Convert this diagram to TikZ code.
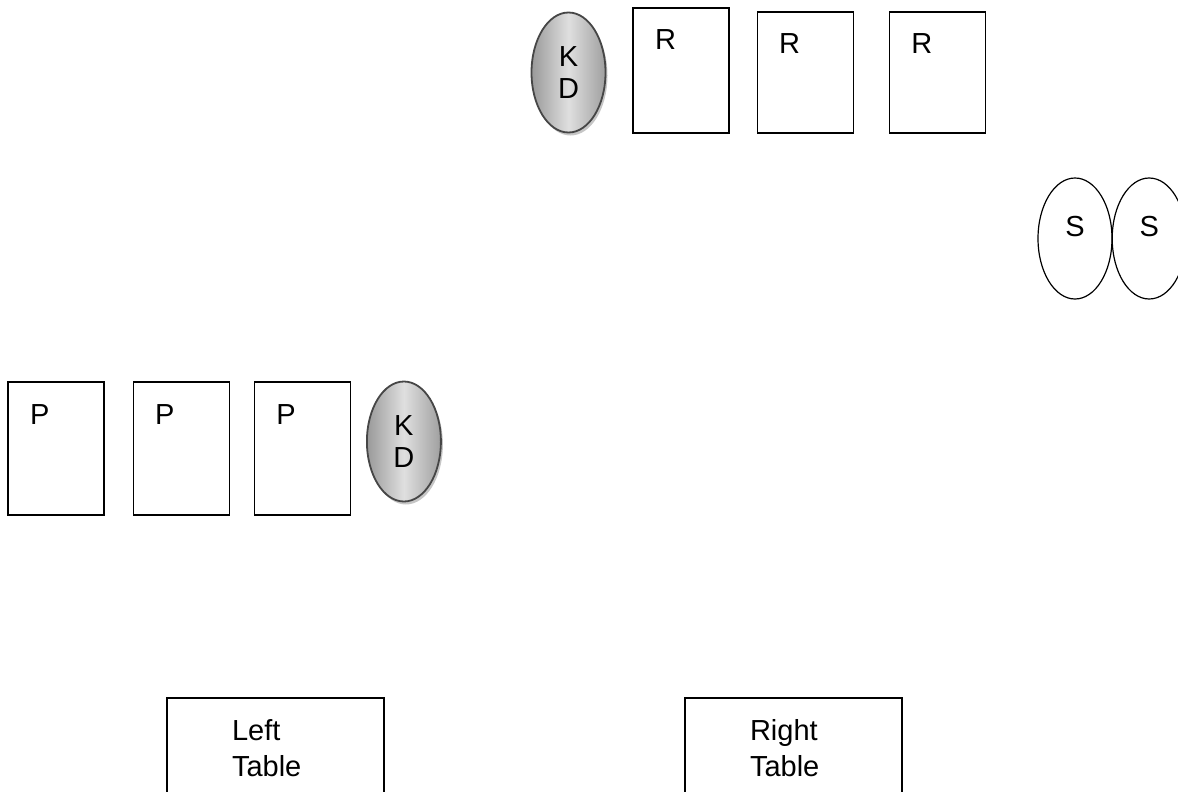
\documentclass[tikz,border=0pt]{standalone}
\usepackage{fontspec}
\setmainfont{Liberation Sans}
\usetikzlibrary{positioning, shapes, shadows}

\begin{document}
\begin{tikzpicture}[
  x=1pt, y=-1pt,
  font=\fontsize{29}{34}\selectfont,
  card/.style={draw, line width=1.2pt, text width=52pt, inner xsep=22pt, inner ysep=21pt,
    text height=21pt, text depth=#1, align=left},
  kd/.style={ellipse, draw=gray!55!black, line width=1.8pt, minimum width=74pt, minimum height=120pt,
    inner sep=0pt, align=center, font=\fontsize{29}{32}\selectfont,
    left color=gray!80, right color=gray!75, middle color=gray!25,
    drop shadow={shadow xshift=2pt, shadow yshift=-3pt, fill=gray!45, opacity=1}},
  seat/.style={ellipse, draw, line width=1.2pt, minimum width=74pt, minimum height=121pt,
    inner sep=0pt, text height=21pt, text depth=26pt},
  tablebox/.style={draw, line width=1.2pt, text width=87pt, inner xsep=65pt, minimum height=100pt,
    align=left, font=\fontsize{29}{36}\selectfont}
]
\useasboundingbox (0,0) rectangle (1178,792);

% R block
\node[card=62pt] (Ra) at (681,70.5) {R};
\node[card=58pt, right=27pt of Ra.south east, anchor=south west] (Rb) {R};
\node[card=58pt, right=35pt of Rb.south east, anchor=south west] (Rc) {R};
\node[kd, left=26pt of Ra, yshift=-2pt] (KDa) {K\\D};

% S block
\node[seat] (Sa) at (1075,238.5) {S};
\node[seat, right=-1pt of Sa] (Sb) {S};

% P block
\node[card=70pt] (Pa) at (56,448.5) {P};
\node[card=70pt, right=28pt of Pa] (Pb) {P};
\node[card=70pt, right=24pt of Pb] (Pc) {P};
\node[kd, right=15pt of Pc, yshift=7pt] (KDb) {K\\D};

% tables
\node[tablebox] (LeftT) at (275.5,748) {Left\\Table};
\node[tablebox] (RightT) at (793.5,748) {Right\\Table};

\end{tikzpicture}
\end{document}
